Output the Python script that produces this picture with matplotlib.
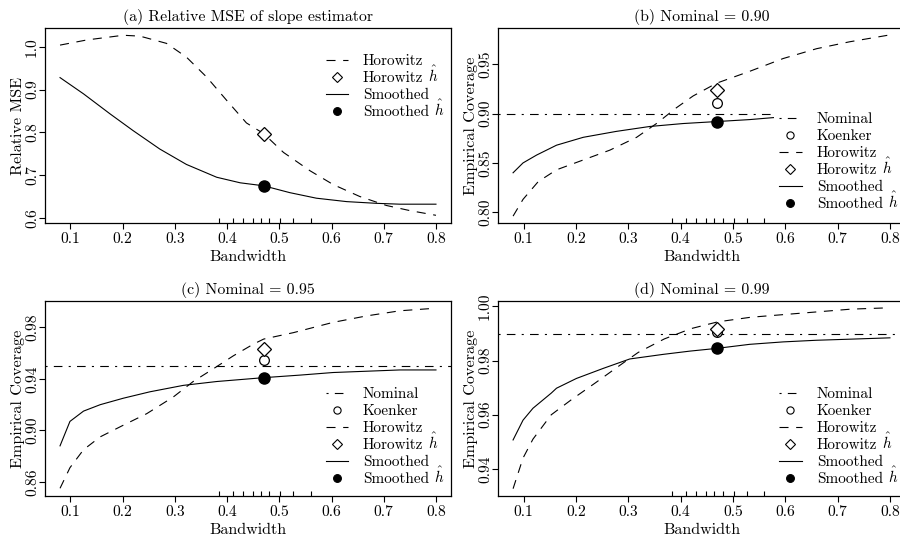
import numpy as np
import matplotlib
matplotlib.use("Agg")
import matplotlib.pyplot as plt
from matplotlib.patches import Rectangle

plt.rcParams['font.family'] = ['cmr10', 'DejaVu Serif']
plt.rcParams['mathtext.fontset'] = 'cm'
plt.rcParams['axes.formatter.use_mathtext'] = True
plt.rcParams['lines.scale_dashes'] = False
plt.rcParams['font.size'] = 11

# ---------------- data ----------------
# rug of estimated bandwidths
rug_h = [0.384, 0.411, 0.430, 0.449, 0.464, 0.481, 0.502, 0.526, 0.560]
h_hat = 0.47

# (a) relative MSE
a_hor_x = [0.08, 0.131, 0.201, 0.233, 0.284, 0.322, 0.361, 0.399, 0.437, 0.47, 0.508, 0.559, 0.603, 0.654, 0.705, 0.75, 0.80]
a_hor_y = [1.004, 1.016, 1.027, 1.025, 1.008, 0.976, 0.929, 0.875, 0.822, 0.797, 0.753, 0.710, 0.678, 0.650, 0.629, 0.617, 0.606]
a_smo_x = [0.08, 0.125, 0.176, 0.22, 0.271, 0.322, 0.38, 0.425, 0.47, 0.52, 0.571, 0.629, 0.686, 0.731, 0.80]
a_smo_y = [0.928, 0.890, 0.843, 0.804, 0.761, 0.725, 0.695, 0.682, 0.675, 0.659, 0.646, 0.638, 0.634, 0.632, 0.632]
a_hor_hat = 0.797
a_smo_hat = 0.675

# (b) nominal 0.90
b_nominal = 0.90
b_hor_x = [0.08, 0.099, 0.128, 0.163, 0.214, 0.265, 0.316, 0.354, 0.392, 0.424, 0.469, 0.532, 0.596, 0.66, 0.723, 0.80]
b_hor_y = [0.796, 0.813, 0.831, 0.843, 0.853, 0.863, 0.876, 0.890, 0.906, 0.918, 0.931, 0.943, 0.956, 0.966, 0.973, 0.980]
b_smo_x = [0.08, 0.099, 0.125, 0.163, 0.214, 0.277, 0.341, 0.405, 0.469, 0.532, 0.577, 0.66, 0.73, 0.80]
b_smo_y = [0.840, 0.850, 0.858, 0.868, 0.876, 0.882, 0.887, 0.890, 0.892, 0.894, 0.896, 0.897, 0.898, 0.898]
b_koenker = 0.911
b_hor_hat = 0.924
b_smo_hat = 0.892

# (c) nominal 0.95
c_nominal = 0.95
c_hor_x = [0.08, 0.099, 0.125, 0.157, 0.201, 0.246, 0.297, 0.335, 0.374, 0.412, 0.45, 0.47, 0.527, 0.603, 0.667, 0.731, 0.80]
c_hor_y = [0.855, 0.871, 0.885, 0.895, 0.904, 0.913, 0.926, 0.938, 0.948, 0.958, 0.967, 0.971, 0.976, 0.984, 0.989, 0.993, 0.995]
c_smo_x = [0.08, 0.099, 0.125, 0.157, 0.201, 0.252, 0.316, 0.38, 0.47, 0.54, 0.603, 0.667, 0.731, 0.80]
c_smo_y = [0.888, 0.907, 0.915, 0.920, 0.925, 0.930, 0.935, 0.938, 0.941, 0.943, 0.945, 0.946, 0.947, 0.947]
c_koenker = 0.955
c_hor_hat = 0.963
c_smo_hat = 0.941

# (d) nominal 0.99
d_nominal = 0.99
d_hor_x = [0.08, 0.099, 0.118, 0.153, 0.191, 0.236, 0.28, 0.319, 0.369, 0.42, 0.471, 0.534, 0.598, 0.662, 0.726, 0.80]
d_hor_y = [0.9327, 0.944, 0.951, 0.960, 0.9655, 0.9716, 0.9777, 0.983, 0.988, 0.9918, 0.9943, 0.996, 0.997, 0.998, 0.999, 0.9995]
d_smo_x = [0.08, 0.099, 0.118, 0.153, 0.163, 0.201, 0.252, 0.303, 0.367, 0.418, 0.469, 0.532, 0.596, 0.659, 0.723, 0.80]
d_smo_y = [0.9507, 0.958, 0.9624, 0.968, 0.9698, 0.9734, 0.9771, 0.9806, 0.9823, 0.9835, 0.9845, 0.986, 0.9869, 0.9875, 0.9879, 0.9884]
d_koenker = 0.9904
d_hor_hat = 0.9915
d_smo_hat = 0.9845

titles = ["(a) Relative MSE of slope estimator", "(b) Nominal = 0.90",
          "(c) Nominal = 0.95", "(d) Nominal = 0.99"]
xticks = [0.1, 0.2, 0.3, 0.4, 0.5, 0.6, 0.7, 0.8]
yticks_a = [0.6, 0.7, 0.8, 0.9, 1.0]
yticks_b = [0.80, 0.85, 0.90, 0.95]
yticks_c = [0.86, 0.90, 0.94, 0.98]
yticks_d = [0.94, 0.96, 0.98, 1.00]
HAT = r"$\hat{h}$"
legend_labels_a = ["Horowitz", "Horowitz " + HAT, "Smoothed", "Smoothed " + HAT]
legend_labels_cov = ["Nominal", "Koenker"] + legend_labels_a

# ---------------- style ----------------
W, H = 900, 536
DASH_H = (0, (6.5, 5.5))
DASH_N = (0, (1.5, 4.5, 6.2, 4.5))
LW = 0.8
FS_TICK = 11.2
FS_LAB = 11.6
FS_TITLE = 11.4
FS_LEG = 11.0

fig = plt.figure(figsize=(9.0, 5.36), dpi=100)

def px_axes(l, r, t, b):
    return fig.add_axes([l / W, 1 - b / H, (r - l) / W, (b - t) / H])

axA = px_axes(45, 451, 28, 223)
axB = px_axes(498, 905, 28, 223)
axC = px_axes(45, 451, 301, 496)
axD = px_axes(498, 905, 301, 496)
AX_W, AX_H = 406.0, 195.0


def style(ax, title, yticks, fmt, ylabel):
    ax.set_title(title, fontsize=FS_TITLE, pad=5)
    ax.set_xlim(0.0512, 0.8288)
    ax.set_xticks(xticks)
    ax.set_xticklabels([f"{v:.1f}" for v in xticks])
    ax.set_yticks(yticks)
    ax.set_yticklabels([fmt.format(v) for v in yticks])
    ax.tick_params(direction='out', length=4, width=0.8, labelsize=FS_TICK)
    ax.tick_params(axis='x', pad=3)
    ax.tick_params(axis='y', pad=0.3, labelrotation=90)
    for lbl in ax.get_yticklabels():
        lbl.set_va('center')
    ax.set_xlabel("Bandwidth", fontsize=FS_LAB, labelpad=2.5)
    ax.set_ylabel(ylabel, fontsize=FS_LAB, labelpad=0)
    for s in ax.spines.values():
        s.set_linewidth(0.9)
    ax.vlines(rug_h, 0, 0.028, transform=ax.get_xaxis_transform(), colors='black', lw=0.8)


# legend sample styles, by label
SAMPLES = {
    "Nominal": dict(kind='line', ls=DASH_N),
    "Koenker": dict(kind='marker', marker='o', mfc='white', ms=5.2),
    "Horowitz": dict(kind='line', ls=DASH_H),
    "Horowitz " + HAT: dict(kind='marker', marker='D', mfc='white', ms=4.6),
    "Smoothed": dict(kind='line', ls='-'),
    "Smoothed " + HAT: dict(kind='marker', marker='o', mfc='black', ms=5.6),
}

LP_DESCENT_PT = 0.194 * FS_LEG   # descent of "p" in cmr10, used by text bbox
SPACE_PT = 0.333 * FS_LEG


def manual_legend(ax, labels, first_row_px, pitch_px, box):
    # positions in pixels relative to the axes' left / top edges
    hx0, hx1, tx = 280.5, 303.0, 318.0
    bx0, by0, bx1, by1 = box
    ax.add_patch(Rectangle((bx0 / AX_W, 1 - by1 / AX_H), (bx1 - bx0) / AX_W, (by1 - by0) / AX_H,
                           transform=ax.transAxes, facecolor='white', edgecolor='none', zorder=4))
    for i, lab in enumerate(labels):
        r = first_row_px + i * pitch_px
        yf = 1 - r / AX_H
        s = SAMPLES[lab]
        if s['kind'] == 'line':
            ax.plot([hx0 / AX_W, hx1 / AX_W], [yf, yf], transform=ax.transAxes, color='black',
                    lw=LW, ls=s['ls'], zorder=5, clip_on=False)
        else:
            ax.plot([(hx0 + hx1) / 2 / AX_W], [yf], transform=ax.transAxes, ls='none',
                    marker=s['marker'], mfc=s['mfc'], mec='black', ms=s['ms'], mew=0.8,
                    zorder=5, clip_on=False)
        base = lab.replace(" " + HAT, "")
        t = ax.text(tx / AX_W, 1 - (r + 5.2) / AX_H, base, transform=ax.transAxes, ha='left',
                    va='baseline', fontsize=FS_LEG, zorder=6)
        if base != lab:
            ax.annotate(HAT, xy=(1, 0), xycoords=t, xytext=(SPACE_PT, LP_DESCENT_PT),
                        textcoords='offset points', ha='left', va='baseline',
                        fontsize=FS_LEG, zorder=6)


# (a)
axA.plot(a_hor_x, a_hor_y, color='black', lw=LW, ls=DASH_H)
axA.plot(a_smo_x, a_smo_y, color='black', lw=LW, ls='-')
axA.plot([h_hat], [a_hor_hat], marker='D', mfc='white', mec='black', ms=7, mew=0.9, ls='none')
axA.plot([h_hat], [a_smo_hat], marker='o', mfc='black', mec='black', ms=8, ls='none')
axA.set_ylim(0.588, 1.044)
style(axA, titles[0], yticks_a, "{:.1f}", "Relative MSE")
manual_legend(axA, legend_labels_a, 32.0, 17.0, (275, 22, 400, 93))

# coverage panels
panels = [
    (axB, titles[1], b_nominal, b_hor_x, b_hor_y, b_smo_x, b_smo_y, b_koenker, b_hor_hat, b_smo_hat, yticks_b, (0.789, 0.987), 90.0),
    (axC, titles[2], c_nominal, c_hor_x, c_hor_y, c_smo_x, c_smo_y, c_koenker, c_hor_hat, c_smo_hat, yticks_c, (0.849, 1.0006), 92.0),
    (axD, titles[3], d_nominal, d_hor_x, d_hor_y, d_smo_x, d_smo_y, d_koenker, d_hor_hat, d_smo_hat, yticks_d, (0.930, 1.002), 92.0),
]
for ax, ttl, nom, hx, hy, sx, sy, kk, hh, sh, yt, yl, row0 in panels:
    ax.axhline(nom, color='black', lw=LW, ls=DASH_N)
    ax.plot(hx, hy, color='black', lw=LW, ls=DASH_H)
    ax.plot(sx, sy, color='black', lw=LW, ls='-')
    ax.plot([h_hat], [kk], marker='o', mfc='white', mec='black', ms=7, mew=0.9, ls='none')
    ax.plot([h_hat], [hh], marker='D', mfc='white', mec='black', ms=7, mew=0.9, ls='none')
    ax.plot([h_hat], [sh], marker='o', mfc='black', mec='black', ms=8, ls='none')
    ax.set_ylim(*yl)
    style(ax, ttl, yt, "{:.2f}", "Empirical Coverage")
    manual_legend(ax, legend_labels_cov, row0, 17.0, (275, row0 - 12, 399, row0 + 5 * 17 + 10))

fig.savefig("out.png", dpi=100)
